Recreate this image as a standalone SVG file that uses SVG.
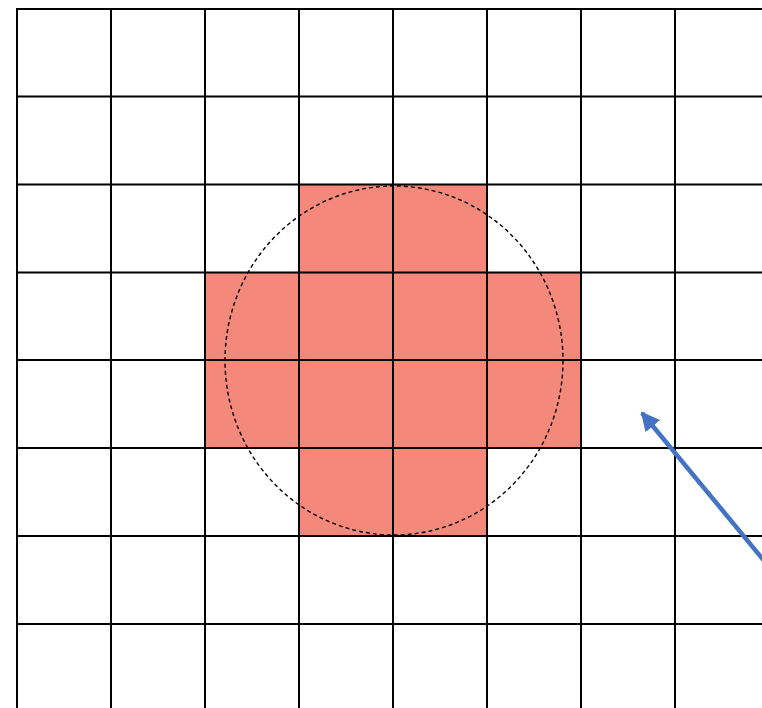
<svg xmlns="http://www.w3.org/2000/svg" width="762" height="708" viewBox="0 0 762 708">
<style>
.cell{fill:#F4887A;stroke:none}
.grid line{stroke:#000;stroke-width:2}
.circ{fill:none;stroke:#000;stroke-width:1.4;stroke-dasharray:4 3}
.arrow{stroke:#4472C4;stroke-width:4.5;fill:none}
</style>
<defs>
<marker id="ah" viewBox="0 0 10 10" refX="9" refY="5" markerWidth="4.2" markerHeight="4.2" orient="auto" markerUnits="strokeWidth">
<path d="M0,0 L10,5 L0,10 z" fill="#4472C4"/>
</marker>
</defs>
<rect width="762" height="708" fill="#fff"/>
<g id="fill">
<rect class="cell" x="299" y="184" width="188" height="88"/>
<rect class="cell" x="205" y="272" width="376" height="176"/>
<rect class="cell" x="299" y="448" width="188" height="88"/>
</g>
<g id="grid" class="grid">
<line x1="17" y1="8" x2="17" y2="708"/>
<line x1="111" y1="8" x2="111" y2="708"/>
<line x1="205" y1="8" x2="205" y2="708"/>
<line x1="299" y1="8" x2="299" y2="708"/>
<line x1="393" y1="8" x2="393" y2="708"/>
<line x1="487" y1="8" x2="487" y2="708"/>
<line x1="581" y1="8" x2="581" y2="708"/>
<line x1="675" y1="8" x2="675" y2="708"/>
<line x1="16" y1="9" x2="762" y2="9"/>
<line x1="16" y1="96.5" x2="762" y2="96.5"/>
<line x1="16" y1="184.5" x2="762" y2="184.5"/>
<line x1="16" y1="272.5" x2="762" y2="272.5"/>
<line x1="16" y1="360" x2="762" y2="360"/>
<line x1="16" y1="448" x2="762" y2="448"/>
<line x1="16" y1="536" x2="762" y2="536"/>
<line x1="16" y1="624" x2="762" y2="624"/>
</g>
<g id="circle">
<ellipse class="circ" cx="394" cy="360.5" rx="169" ry="174.5"/>
</g>
<g id="connectors">
<line class="arrow" x1="766" y1="563" x2="642" y2="413" marker-end="url(#ah)"/>
</g>
</svg>
